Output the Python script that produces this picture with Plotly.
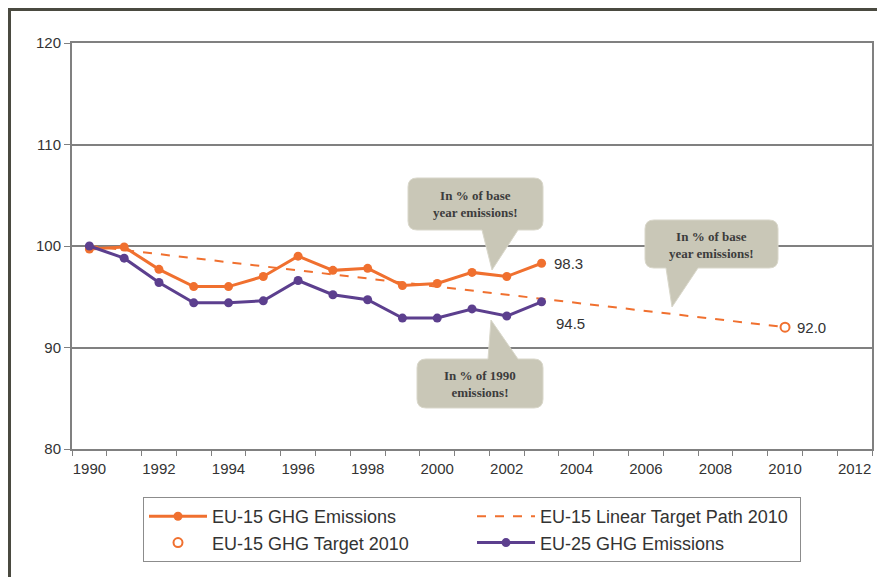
import plotly.graph_objects as go

# ---------------- data ----------------
years = list(range(1990, 2004))
eu15_ghg = [99.7, 99.9, 97.7, 96.0, 96.0, 97.0, 99.0, 97.6, 97.8, 96.1, 96.3, 97.4, 97.0, 98.3]
eu25_ghg = [100.0, 98.8, 96.4, 94.4, 94.4, 94.6, 96.6, 95.2, 94.7, 92.9, 92.9, 93.8, 93.1, 94.5]
path_years = [1990, 2010]
path_values = [100.0, 92.0]
target_year = [2010]
target_value = [92.0]
xtick_years = list(range(1990, 2013, 2))
xtick_labels = [str(y) for y in xtick_years]
ytick_vals = [80, 90, 100, 110, 120]

ORANGE = "#F0702F"
PURPLE = "#5C3F8E"
GRID = "#808080"

# the page body has an 8px margin: figure origin sits at page (8, 8)
OFF = 8
FW, FH = 885 - OFF, 577 - OFF
# plot area geometry (page pixels)
L, R, T, B = 72, 872, 43, 449
W, H = R - L, B - T


def pp(xp, yp):
    return (xp - L) / W, (B - yp) / H


def fmt(pt):
    x, y = pp(*pt)
    return f"{x:.5f},{y:.5f}"


def callout(x0, y0, x1, y1, pa, pb, tip, side, r=9):
    segs = [f"M{fmt((x0 + r, y0))}"]
    if side == "top":
        segs += [f"L{fmt((pa, y0))}", f"L{fmt(tip)}", f"L{fmt((pb, y0))}"]
    segs += [f"L{fmt((x1 - r, y0))}", f"Q{fmt((x1, y0))} {fmt((x1, y0 + r))}",
             f"L{fmt((x1, y1 - r))}", f"Q{fmt((x1, y1))} {fmt((x1 - r, y1))}"]
    if side == "bottom":
        segs += [f"L{fmt((pb, y1))}", f"L{fmt(tip)}", f"L{fmt((pa, y1))}"]
    segs += [f"L{fmt((x0 + r, y1))}", f"Q{fmt((x0, y1))} {fmt((x0, y1 - r))}",
             f"L{fmt((x0, y0 + r))}", f"Q{fmt((x0, y0))} {fmt((x0 + r, y0))}", "Z"]
    return " ".join(segs)


fig = go.Figure()

fig.add_trace(go.Scatter(
    x=path_years, y=path_values, mode="lines", name="EU-15 Linear Target Path 2010",
    line=dict(color=ORANGE, width=2, dash="dash"), legendrank=2))
fig.add_trace(go.Scatter(
    x=years, y=eu15_ghg, mode="lines+markers", name="EU-15 GHG Emissions",
    line=dict(color=ORANGE, width=3), marker=dict(size=9, color=ORANGE), legendrank=1))
fig.add_trace(go.Scatter(
    x=years, y=eu25_ghg, mode="lines+markers", name="EU-25 GHG Emissions",
    line=dict(color=PURPLE, width=3), marker=dict(size=9, color=PURPLE), legendrank=4))
fig.add_trace(go.Scatter(
    x=target_year, y=target_value, mode="markers", name="EU-15 GHG Target 2010",
    marker=dict(size=9, color=ORANGE, symbol="circle-open", line=dict(color=ORANGE, width=2)),
    legendrank=3))

shapes = []
# outer frame of the figure (left and top edges)
shapes.append(dict(type="path", xref="paper", yref="paper",
                   path=f"M{fmt((OFF + 1.5, 590))} L{fmt((OFF + 1.5, OFF + 1.5))} L{fmt((900, OFF + 1.5))}",
                   line=dict(color="#4a4a40", width=3)))

BOX_FILL = "#c9c7b7"
BOX_LINE = "#d9d7ca"
shapes.append(dict(type="path", xref="paper", yref="paper",
                   path=callout(408, 178, 543, 230, 482, 518, (492, 270), "bottom"),
                   fillcolor=BOX_FILL, line=dict(color=BOX_LINE, width=1)))
shapes.append(dict(type="path", xref="paper", yref="paper",
                   path=callout(645, 220, 778, 268, 666, 698, (672, 307), "bottom"),
                   fillcolor=BOX_FILL, line=dict(color=BOX_LINE, width=1)))
shapes.append(dict(type="path", xref="paper", yref="paper",
                   path=callout(417, 359, 543, 408, 488, 518, (491, 320), "top"),
                   fillcolor=BOX_FILL, line=dict(color=BOX_LINE, width=1)))

annotations = []
cfont = dict(family="Liberation Serif, Times New Roman, serif", size=13, color="#3c3c3c")
for (cx, cy, txt) in [(475.5, 204, "<b>In % of base<br>year emissions!</b>"),
                      (711.5, 245, "<b>In % of base<br>year emissions!</b>"),
                      (480, 384, "<b>In % of 1990<br>emissions!</b>")]:
    x, y = pp(cx, cy)
    annotations.append(dict(x=x, y=y, xref="paper", yref="paper", text=txt, showarrow=False,
                            font=cfont, xanchor="center", yanchor="middle", align="center"))

lfont = dict(family="Liberation Sans, Arial, sans-serif", size=15, color="#333333")
annotations.append(dict(x=years[-1], y=eu15_ghg[-1], text=f"{eu15_ghg[-1]:.1f}", showarrow=False,
                        xanchor="left", yanchor="middle", xshift=10, font=lfont))
annotations.append(dict(x=years[-1], y=eu25_ghg[-1], text=f"{eu25_ghg[-1]:.1f}", showarrow=False,
                        xanchor="left", yanchor="middle", xshift=12, yshift=-22, font=lfont))
annotations.append(dict(x=target_year[0], y=target_value[0], text=f"{target_value[0]:.1f}",
                        showarrow=False, xanchor="left", yanchor="middle", xshift=10, font=lfont))

fig.update_layout(
    width=FW, height=FH,
    margin=dict(l=L - OFF, r=885 - R, t=T - OFF, b=577 - B, autoexpand=False),
    paper_bgcolor="white", plot_bgcolor="white",
    font=dict(family="Liberation Sans, Arial, sans-serif", size=15, color="#333333"),
    showlegend=True,
    legend=dict(orientation="h", x=(143 - L) / W, y=(B - 497) / H, xanchor="left", yanchor="top",
                entrywidth=255, entrywidthmode="pixels", itemwidth=58,
                bordercolor="#8c8c8c", borderwidth=1,
                bgcolor="white", font=dict(size=18, color="#333333"), traceorder="normal",
                tracegroupgap=0),
    shapes=shapes,
    annotations=annotations,
)

fig.update_xaxes(
    range=[1989.5, 2012.5], tickmode="array", tickvals=xtick_years, ticktext=xtick_labels,
    ticks="", ticklabelstandoff=5, showgrid=False, zeroline=False,
    showline=True, linecolor=GRID, linewidth=2, mirror=True,
    minor=dict(tickmode="array", tickvals=[y - 0.5 for y in range(1990, 2014)],
               ticks="outside", ticklen=5, tickcolor=GRID, tickwidth=1, showgrid=False),
    tickfont=dict(size=15, color="#333333"),
)
fig.update_yaxes(
    range=[80, 120], tickmode="array", tickvals=ytick_vals,
    ticks="outside", ticklen=6, tickcolor=GRID, tickwidth=1,
    showgrid=True, gridcolor=GRID, gridwidth=2, zeroline=False,
    showline=True, linecolor=GRID, linewidth=2, mirror=True,
    tickfont=dict(size=15, color="#333333"),
)

fig.write_html("out.html")
